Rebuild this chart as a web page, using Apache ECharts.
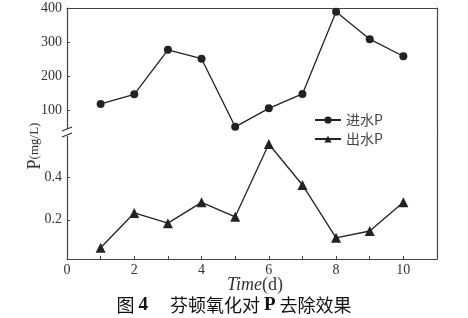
<!DOCTYPE html>
<html><head><meta charset="utf-8">
<script src="https://cdn.jsdelivr.net/npm/echarts@6/dist/echarts.min.js"></script>
<style>html,body{margin:0;padding:0;background:#fff}#c{width:468px;height:318px}</style>
</head><body><div id="c"></div>
<script>
var days = [1,2,3,4,5,6,7,8,9,10];
var influentP = [120,148,278,252,53,107,149,389,309,259];
var effluentP = [0.068,0.232,0.184,0.282,0.214,0.557,0.364,0.115,0.147,0.282];
var upperTicks = [100,200,300,400];
var lowerTicks = [0.2,0.4];
var xTicks = [0,2,4,6,8,10];

var serif = '"Liberation Serif","DejaVu Serif",serif';
var cjk = '"Noto Sans CJK SC","Noto Sans",sans-serif';
var lineC = '#222';
var chart = echarts.init(document.getElementById('c'));
function pairs(vals){ return days.map(function(d,i){ return [d, vals[i]]; }); }
var axLine = {show:true, lineStyle:{color:'#444', width:1.2}};
chart.setOption({
  animation:false,
  grid:[
    {left:67, right:31, top:8, height:125},
    {left:67, right:31, top:133, bottom:59}
  ],
  xAxis:[
    {gridIndex:0, type:'value', min:0, max:11, position:'top', axisLine:axLine, axisTick:{show:false}, axisLabel:{show:false}, splitLine:{show:false}},
    {gridIndex:1, type:'value', min:0, max:11, interval:1, position:'bottom', axisLine:axLine,
     axisTick:{show:true, inside:true, length:3, lineStyle:{color:'#444'}},
     axisLabel:{customValues:xTicks, color:'#333', fontFamily:serif, fontSize:14, margin:4}, splitLine:{show:false}}
  ],
  yAxis:[
    {gridIndex:0, type:'value', min:35, max:400, position:'left', axisLine:axLine,
     axisTick:{show:true, inside:true, length:3, customValues:upperTicks, lineStyle:{color:'#444'}},
     axisLabel:{customValues:upperTicks, color:'#333', fontFamily:serif, fontSize:14, margin:5}, splitLine:{show:false}},
    {gridIndex:1, type:'value', min:0.015, max:0.609, position:'left', axisLine:axLine,
     axisTick:{show:true, inside:true, length:3, customValues:lowerTicks, lineStyle:{color:'#444'}},
     axisLabel:{customValues:lowerTicks, color:'#333', fontFamily:serif, fontSize:14, margin:5, formatter:function(v){return v.toFixed(1);}}, splitLine:{show:false}},
    {gridIndex:0, type:'value', min:35, max:400, position:'right', axisLine:axLine, axisTick:{show:false}, axisLabel:{show:false}, splitLine:{show:false}},
    {gridIndex:1, type:'value', min:0.015, max:0.609, position:'right', axisLine:axLine, axisTick:{show:false}, axisLabel:{show:false}, splitLine:{show:false}}
  ],
  legend:{
    orient:'vertical', left:309, top:108, itemWidth:26, itemHeight:9, itemGap:5,
    textStyle:{fontFamily:cjk, fontSize:14, color:'#444'},
    data:['进水P','出水P']
  },
  series:[
    {name:'进水P', type:'line', xAxisIndex:0, yAxisIndex:0, data:pairs(influentP),
     symbol:'circle', symbolSize:8, lineStyle:{color:lineC, width:1.3}, itemStyle:{color:lineC}},
    {name:'出水P', type:'line', xAxisIndex:1, yAxisIndex:1, data:pairs(effluentP),
     symbol:'triangle', symbolSize:10, lineStyle:{color:lineC, width:1.3}, itemStyle:{color:lineC}}
  ],
  graphic:[
    {type:'rect', shape:{x:62, y:129, width:10, height:7}, style:{fill:'#fff'}, z:100},
    {type:'line', shape:{x1:62, y1:131, x2:72, y2:127}, style:{stroke:'#333', lineWidth:1.2}, z:101},
    {type:'line', shape:{x1:62, y1:137, x2:72, y2:133}, style:{stroke:'#333', lineWidth:1.2}, z:101},
    {type:'text', x:35, y:146, rotation:Math.PI/2,
     style:{text:'{a|P}{b|(mg/L)}', align:'center', verticalAlign:'middle',
       rich:{a:{fontFamily:serif, fontSize:18, fill:'#333'}, b:{fontFamily:serif, fontSize:13, fill:'#333'}}}},
    {type:'text', x:255, y:285,
     style:{text:'{a|Time}{b|(d)}', align:'center', verticalAlign:'middle',
       rich:{a:{fontFamily:serif, fontSize:18, fontStyle:'italic', fill:'#333'}, b:{fontFamily:serif, fontSize:18, fill:'#333'}}}},
    {type:'text', x:234, y:305,
     style:{text:'{c|图 }{d|4}{c|　 芬顿氧化对 }{d|P}{c| 去除效果}', align:'center', verticalAlign:'middle',
       rich:{c:{fontFamily:cjk, fontSize:18, fill:'#111'}, d:{fontFamily:serif, fontSize:19, fontWeight:'bold', fill:'#111'}}}}
  ]
});
</script></body></html>
